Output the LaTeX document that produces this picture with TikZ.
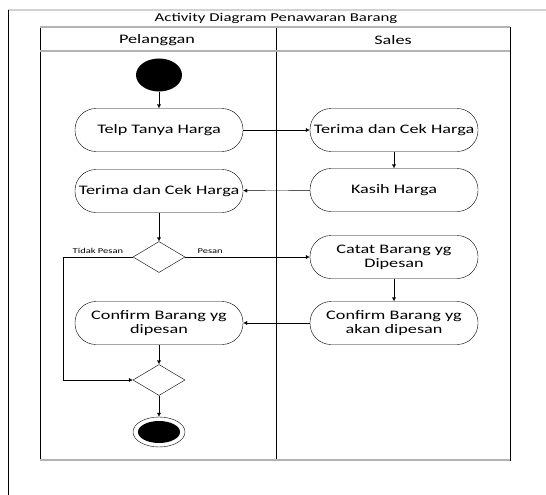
\documentclass[tikz,border=0pt]{standalone}
\usepackage{fontspec}
\setmainfont[FakeStretch=1.4]{Carlito}
\usetikzlibrary{shapes.geometric,arrows.meta}
\begin{document}
\begin{tikzpicture}[x=1pt,y=-1pt,
    act/.style={draw,rounded corners=21pt,minimum width=168pt,minimum height=43pt,
      align=center,inner sep=2pt,font=\fontsize{13}{14}\selectfont},
    dec/.style={draw,diamond,aspect=1.7,minimum width=52pt,minimum height=31pt,inner sep=0pt},
    flow/.style={-{Latex[length=4pt,width=4pt]}},
    lbl/.style={font=\fontsize{7.5}{9}\selectfont}]
  \useasboundingbox (0,0) rectangle (546,495);

  % page edge
  \draw[gray!35,line width=2pt] (8,10) -- (546,10);
  \draw (8,10) -- (8,495);

  % swimlanes
  \draw (40,27) rectangle (510,460);
  \draw (276,27) -- (276,460);
  \draw[gray!60,line width=1.5pt] (40,27) -- (510,27);
  \draw[gray!60,line width=1.5pt] (40,51) -- (510,51);
  \draw[gray!60,line width=1.2pt] (40,460) -- (510,460);
  \node[font=\fontsize{12}{13}\selectfont] (judul) at (276,18) {Activity Diagram Penawaran Barang};
  \node[font=\fontsize{13}{14}\selectfont] (pelanggan) at (157,40) {Pelanggan};
  \node[font=\fontsize{13}{14}\selectfont] (sales) at (393,40) {Sales};

  % Pelanggan
  \node[ellipse,fill=black,minimum width=46pt,minimum height=33pt] (mulai) at (159,75) {};
  \node[act] (telp) at (159,130) {Telp Tanya Harga};
  \node[act] (terimaP) at (159,191) {Terima dan Cek Harga};
  \node[dec] (pilih) at (159,257) {};
  \node[act] (confirmP) at (159,323) {Confirm Barang yg\\dipesan};
  \node[dec] (gabung) at (159,380) {};
  \node[ellipse,draw,minimum width=52pt,minimum height=30pt] (selesai) at (159,432) {};
  \fill (selesai.center) ellipse (21pt and 11pt);
  \coordinate (belok) at (63,257);

  % Sales
  \node[act] (terimaS) at (394,130) {Terima dan Cek Harga};
  \node[act] (kasih) at (394,190) {Kasih Harga};
  \node[act] (catat) at (394,257) {Catat Barang yg\\Dipesan};
  \node[act] (confirmS) at (394,323) {Confirm Barang yg\\akan dipesan};

  \draw[flow] (mulai) -- (telp);
  \draw[flow] (telp) -- (terimaS);
  \draw[flow] (terimaS) -- (kasih);
  \draw[flow] (kasih) -- (terimaP);
  \draw[flow] (terimaP) -- (pilih);
  \draw[flow] (pilih) -- node[lbl,above,pos=0.2]{Pesan} (catat);
  \draw[flow] (pilih) -- node[lbl,above]{Tidak Pesan} (belok) |- (gabung);
  \draw[flow] (catat) -- (confirmS);
  \draw[flow] (confirmS) -- (confirmP);
  \draw[flow] (confirmP) -- (gabung);
  \draw[flow] (gabung) -- (selesai);
\end{tikzpicture}
\end{document}
